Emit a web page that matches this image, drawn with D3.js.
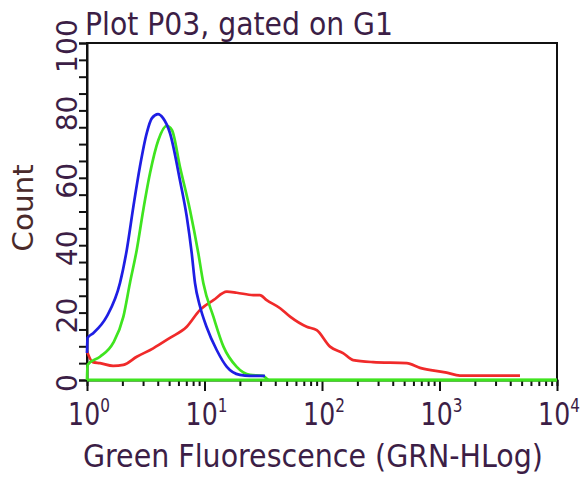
<!DOCTYPE html>
<html>
<head>
<meta charset="utf-8">
<script src="https://cdn.jsdelivr.net/npm/d3@7"></script>
<style>
  html, body { margin: 0; padding: 0; background: #fff; }
  svg { display: block; }
</style>
</head>
<body>
<div id="chart"></div>
<script>
// ---- data ----
const titleText = "Plot P03, gated on G1";
const xAxisTitle = "Green Fluorescence (GRN-HLog)";
const yAxisTitle = "Count";
const xDecades = [1, 10, 100, 1000, 10000];
const xDecadeExponents = ["0", "1", "2", "3", "4"];
const yTickLabels = [0, 20, 40, 60, 80, 100];

const blueX = [1, 1.01, 1.13, 1.47, 1.91, 2.18, 2.48, 2.82, 3.22, 3.57, 4.02, 4.44, 5.08, 6.18, 7.06, 7.78, 8.30, 9.16, 10.4, 12.7, 15.5, 20.0, 24.4, 32.7];
const blueY = [8, 12.5, 13.9, 18.8, 28.8, 38.6, 51.4, 63.3, 73.2, 77.7, 78.9, 77.7, 73.3, 59.3, 48.5, 37.7, 28.8, 21.8, 15.8, 8.9, 3.9, 1.5, 1.2, 1.2];

const greenX = [1, 1.01, 1.29, 1.67, 2.04, 2.32, 2.65, 3.01, 3.44, 4.05, 4.76, 5.28, 6.18, 7.53, 8.85, 9.77, 11.9, 14.5, 18.8, 24.4, 31.5, 35.5, 10000];
const greenY = [0, 4.5, 6.9, 11, 18.8, 28.8, 38.6, 50.4, 61.4, 71.2, 75.4, 74.2, 63.3, 50.4, 37.7, 28.8, 18.8, 9.9, 3.9, 1.5, 1.2, 0, 0];

const redX = [1, 1.12, 1.29, 1.67, 2.04, 2.65, 3.66, 5.08, 7.06, 9.16, 11.9, 15.5, 18.8, 26.0, 29.6, 33.8, 44.0, 53.5, 74.1, 90.2, 117, 151, 184, 272, 526, 682, 1151, 1493, 4842];
const redY = [8.5, 5.3, 5.0, 4.2, 4.5, 6.9, 9.4, 12.5, 15.8, 20.8, 23.7, 26.2, 25.9, 25.2, 25.2, 23.7, 21.3, 18.8, 15.8, 14.8, 9.9, 8.0, 5.9, 5.3, 5.0, 3.6, 2.2, 1.3, 1.3];

// ---- layout ----
const W = 581, H = 481;
const plot = { left: 87, right: 557, top: 43, bottom: 380 };
const textColor = "#3c1e46";
const fontFamily = "'DejaVu Sans Condensed', 'DejaVu Sans', sans-serif";
const stretch = 1.12;

const svg = d3.select("#chart").append("svg")
  .attr("width", W).attr("height", H);

const x = d3.scaleLog().domain([1, 10000]).range([plot.left, plot.right]);
const y = d3.scaleLinear().domain([0, 100]).range([plot.bottom, plot.top]);

// frame
svg.append("rect")
  .attr("x", plot.left).attr("y", plot.top)
  .attr("width", plot.right - plot.left).attr("height", plot.bottom - plot.top)
  .attr("fill", "none").attr("stroke", "#111").attr("stroke-width", 2);

// y axis ticks
const yAxis = svg.append("g")
  .attr("transform", `translate(${plot.left},0)`)
  .call(d3.axisLeft(y).tickValues(d3.range(0, 101, 5)).tickSize(8).tickFormat(""));
yAxis.select(".domain").attr("stroke", "#111").attr("stroke-width", 2);
yAxis.selectAll(".tick line").attr("stroke", "#111").attr("stroke-width", 2);

// x axis ticks
const xAxis = svg.append("g")
  .attr("transform", `translate(0,${plot.bottom})`)
  .call(d3.axisBottom(x).tickValues(x.ticks()).tickSize(6).tickFormat(""));
xAxis.select(".domain").attr("stroke", "#111").attr("stroke-width", 2);
xAxis.selectAll(".tick line")
  .attr("stroke", "#111").attr("stroke-width", 2)
  .attr("y2", d => xDecades.includes(d) ? 11 : 6);

// curves
const line = d3.line()
  .x(d => x(d[0]))
  .y(d => y(d[1]))
  .curve(d3.curveMonotoneX);

const series = [
  { xs: redX, ys: redY, color: "#f02a2a" },
  { xs: greenX, ys: greenY, color: "#3fe41f" },
  { xs: blueX, ys: blueY, color: "#1e1ee4" }
];

series.forEach(s => {
  svg.append("path")
    .datum(s.xs.map((v, i) => [v, s.ys[i]]))
    .attr("d", line)
    .attr("fill", "none")
    .attr("stroke", s.color)
    .attr("stroke-width", 2.7)
    .attr("stroke-linejoin", "round");
});

// green baseline overlays the bottom axis line
svg.append("line")
  .attr("x1", x(1)).attr("x2", x(10000))
  .attr("y1", y(0)).attr("y2", y(0))
  .attr("stroke", "#3fe41f").attr("stroke-width", 3);

// x tick labels (10^n)
xDecades.forEach((d, i) => {
  const t = svg.append("text")
    .attr("transform", `translate(${x(d) + 2},425) scale(1,${stretch})`)
    .attr("text-anchor", "middle")
    .attr("font-family", fontFamily)
    .attr("font-size", 28)
    .attr("fill", textColor)
    .text("10");
  t.append("tspan")
    .attr("dy", -12)
    .attr("font-size", 17)
    .text(xDecadeExponents[i]);
});

// y tick labels (rotated)
yTickLabels.forEach(v => {
  svg.append("text")
    .attr("transform", `translate(77,${y(v) + 3}) scale(1,${stretch}) rotate(-90)`)
    .attr("text-anchor", "middle")
    .attr("font-family", fontFamily)
    .attr("font-size", 28)
    .attr("fill", textColor)
    .text(v);
});

// title
svg.append("text")
  .attr("transform", `translate(85,35) scale(1,${stretch})`)
  .attr("font-family", fontFamily)
  .attr("font-size", 28)
  .attr("fill", textColor)
  .attr("textLength", 308)
  .attr("lengthAdjust", "spacingAndGlyphs")
  .text(titleText);

// x axis title
svg.append("text")
  .attr("transform", `translate(83,467) scale(1,${stretch})`)
  .attr("font-family", fontFamily)
  .attr("font-size", 28)
  .attr("fill", textColor)
  .attr("textLength", 460)
  .attr("lengthAdjust", "spacingAndGlyphs")
  .text(xAxisTitle);

// y axis title
svg.append("text")
  .attr("transform", `translate(33,208) scale(1,${stretch}) rotate(-90)`)
  .attr("text-anchor", "middle")
  .attr("font-family", fontFamily)
  .attr("font-size", 28)
  .attr("fill", "#4a2a2a")
  .attr("textLength", 78)
  .attr("lengthAdjust", "spacingAndGlyphs")
  .text(yAxisTitle);
</script>
</body>
</html>
